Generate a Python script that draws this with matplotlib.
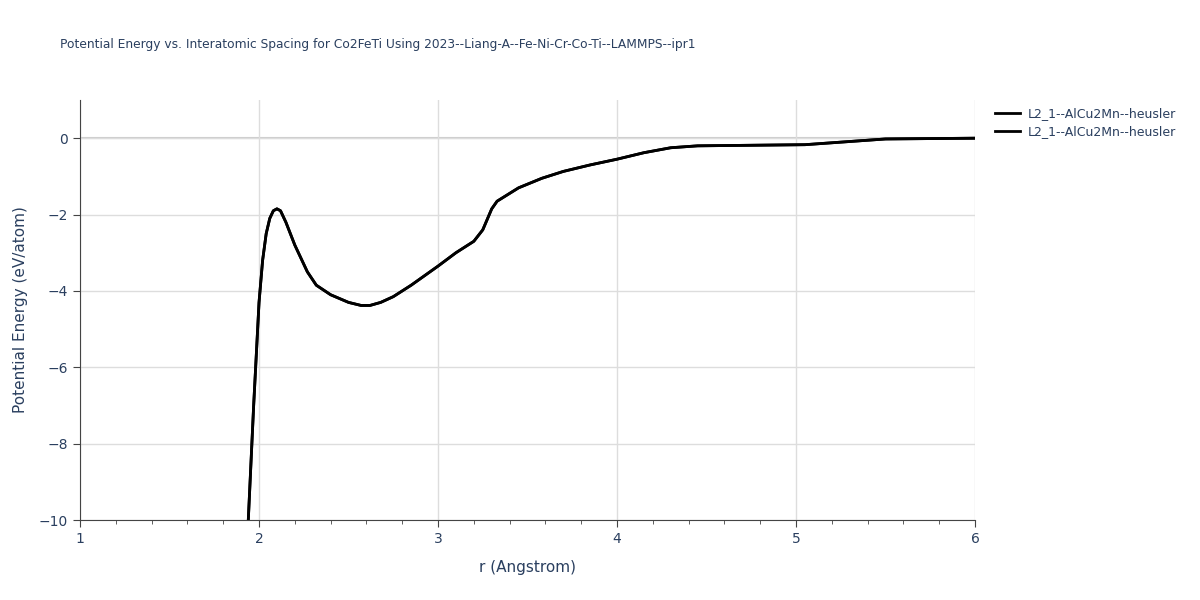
import matplotlib
matplotlib.use("Agg")
import matplotlib.pyplot as plt

r = [1.94, 1.97, 2.0, 2.02, 2.04, 2.06, 2.08, 2.1, 2.12, 2.15, 2.2, 2.27, 2.32,
     2.4, 2.5, 2.57, 2.62, 2.68, 2.75, 2.85, 3.0, 3.1, 3.2, 3.25, 3.3, 3.33,
     3.45, 3.58, 3.7, 3.85, 4.0, 4.15, 4.3, 4.45, 5.05, 5.2, 5.5, 6.0]
energy = [-10, -7, -4.3, -3.2, -2.5, -2.1, -1.9, -1.85, -1.9, -2.2, -2.8, -3.5, -3.85,
          -4.1, -4.3, -4.38, -4.38, -4.3, -4.15, -3.85, -3.35, -3.0, -2.7, -2.4, -1.85, -1.65,
          -1.3, -1.05, -0.87, -0.7, -0.55, -0.38, -0.25, -0.2, -0.17, -0.12, -0.02, 0.0]
label = "L2_1--AlCu2Mn--heusler"

fig = plt.figure(figsize=(12, 6), dpi=100)
ax = fig.add_axes([0.0667, 0.1333, 0.7458, 0.7])
txt = "#2a3f5f"

ax.plot(r, energy, color="black", lw=2, label=label)
ax.plot(r, energy, color="black", lw=2, label=label)
ax.axhline(0, color="#cccccc", lw=1.5, zorder=0)

ax.set_xlim(1, 6)
ax.set_ylim(-10, 1)
ax.set_xticks([1, 2, 3, 4, 5, 6])
ax.set_xticks([1.2, 1.4, 1.6, 1.8, 2.2, 2.4, 2.6, 2.8, 3.2, 3.4, 3.6, 3.8,
               4.2, 4.4, 4.6, 4.8, 5.2, 5.4, 5.6, 5.8], minor=True)
ax.set_yticks([-10, -8, -6, -4, -2, 0])
ax.set_yticklabels(["\u221210", "\u22128", "\u22126", "\u22124", "\u22122", "0"])
ax.grid(True, color="#dddddd", lw=1)
ax.set_axisbelow(True)
for s in ["top", "right"]:
    ax.spines[s].set_visible(False)
for s in ["left", "bottom"]:
    ax.spines[s].set_color("#444444")
ax.tick_params(colors=txt, labelsize=10, length=5, color="#444444")
ax.tick_params(which="minor", length=3, color="#444444")

ax.set_xlabel("r (Angstrom)", color=txt, fontsize=11, labelpad=10)
ax.set_ylabel("Potential Energy (eV/atom)", color=txt, fontsize=11, labelpad=8)
fig.text(0.05, 0.92, "Potential Energy vs. Interatomic Spacing for Co2FeTi Using 2023--Liang-A--Fe-Ni-Cr-Co-Ti--LAMMPS--ipr1",
         color=txt, fontsize=8.8)
leg = ax.legend(loc="upper left", bbox_to_anchor=(1.01, 1.01), frameon=False,
                fontsize=9, handlelength=2, handletextpad=0.6, labelspacing=0.4)
for t in leg.get_texts():
    t.set_color(txt)

fig.savefig("out.png")
